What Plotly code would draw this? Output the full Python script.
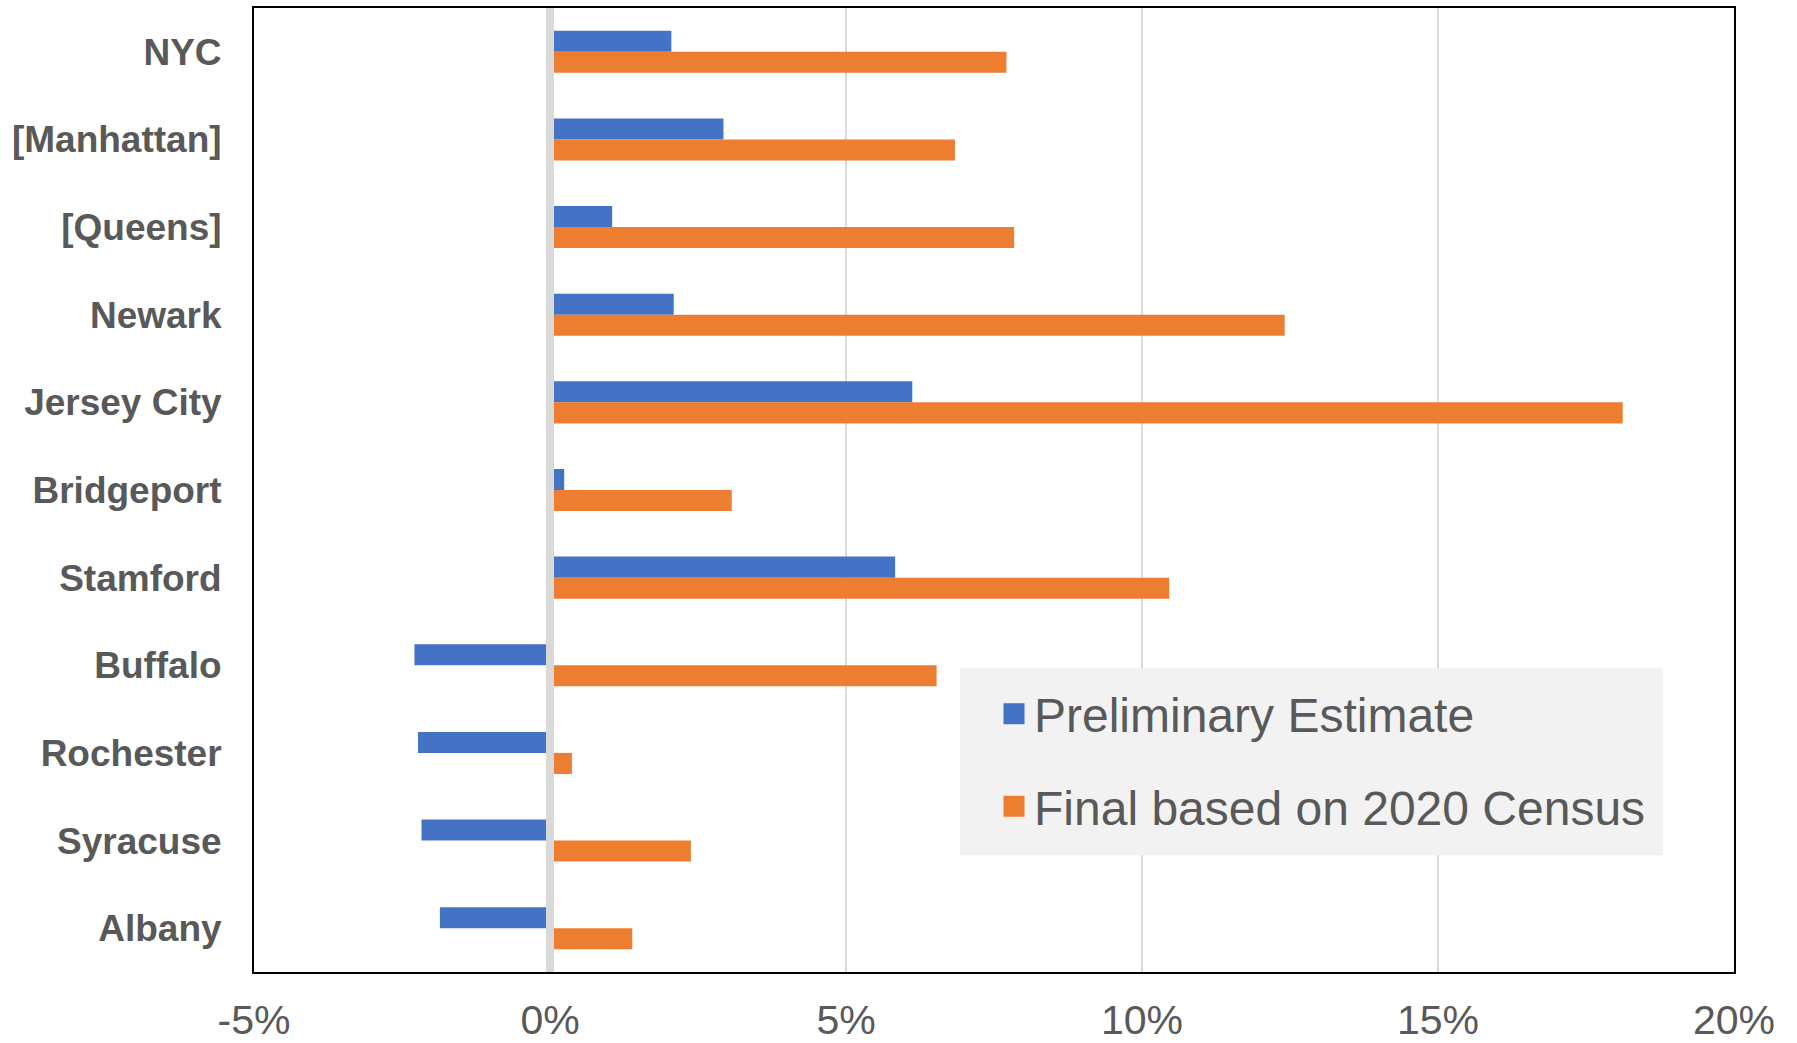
import plotly.graph_objects as go

cities = ["NYC", "[Manhattan]", "[Queens]", "Newark", "Jersey City", "Bridgeport",
          "Stamford", "Buffalo", "Rochester", "Syracuse", "Albany"]
preliminary = [2.05, 2.93, 1.05, 2.09, 6.12, 0.24, 5.83, -2.29, -2.23, -2.17, -1.86]
final_2020 = [7.71, 6.84, 7.84, 12.41, 18.12, 3.07, 10.46, 6.53, 0.37, 2.38, 1.39]
series_names = ["Preliminary Estimate", "Final based on 2020 Census"]
x_tick_vals = [-5, 0, 5, 10, 15, 20]
x_tick_text = ["-5%", "0%", "5%", "10%", "15%", "20%"]

BLUE = "#4472C4"
ORANGE = "#ED7D31"
TEXT = "#595959"

fig = go.Figure()
for name, vals, col in [(series_names[0], preliminary, BLUE), (series_names[1], final_2020, ORANGE)]:
    fig.add_trace(go.Bar(x=vals, y=cities, orientation="h", name=name,
                         marker=dict(color=col, line=dict(width=0)),
                         showlegend=False, legendgroup=name))
# legend entries (bigger square symbols)
for name, col in [(series_names[0], BLUE), (series_names[1], ORANGE)]:
    fig.add_trace(go.Scatter(x=[None], y=[None], mode="markers", name=name,
                             legendgroup=name,
                             marker=dict(symbol="square", size=16, color=col,
                                         line=dict(color=col, width=5))))

fig.update_layout(
    width=1797, height=1043,
    margin=dict(l=254, r=63, t=8, b=71, autoexpand=False),
    paper_bgcolor="white", plot_bgcolor="white",
    barmode="group", bargap=0.52, bargroupgap=0,
    font=dict(family="Liberation Sans, Arial, sans-serif", color=TEXT),
    legend=dict(x=0.500, xanchor="left", y=0.307, yanchor="top",
                bgcolor="rgba(0,0,0,0)", font=dict(size=48, color=TEXT),
                traceorder="grouped", tracegroupgap=27, itemwidth=30),
    shapes=[
        dict(type="rect", xref="paper", yref="paper", x0=0.477, x1=0.952, y0=0.121, y1=0.315,
             fillcolor="#F2F2F2", line=dict(width=0), layer="above"),
        dict(type="line", xref="x", yref="paper", x0=0, x1=0, y0=0, y1=1,
             line=dict(color="#D9D9D9", width=8), layer="above"),
    ],
)
fig.update_xaxes(range=[-5, 20], tickvals=x_tick_vals, ticktext=x_tick_text,
                 showgrid=True, gridcolor="#D9D9D9", gridwidth=1.5,
                 zeroline=False, showline=True, mirror=True, linecolor="black", linewidth=2,
                 ticks="", ticklabelstandoff=11,
                 tickfont=dict(size=41, color=TEXT))
fig.update_yaxes(categoryorder="array", categoryarray=cities, autorange="reversed",
                 showgrid=False, zeroline=False, showline=True, mirror=True,
                 linecolor="black", linewidth=2, ticks="", ticklabelstandoff=23,
                 tickfont=dict(size=37, color=TEXT, weight="bold"))

fig.write_html("out.html", config={"displayModeBar": False},
               post_script="document.body.style.margin='0';document.body.style.overflow='hidden';")
